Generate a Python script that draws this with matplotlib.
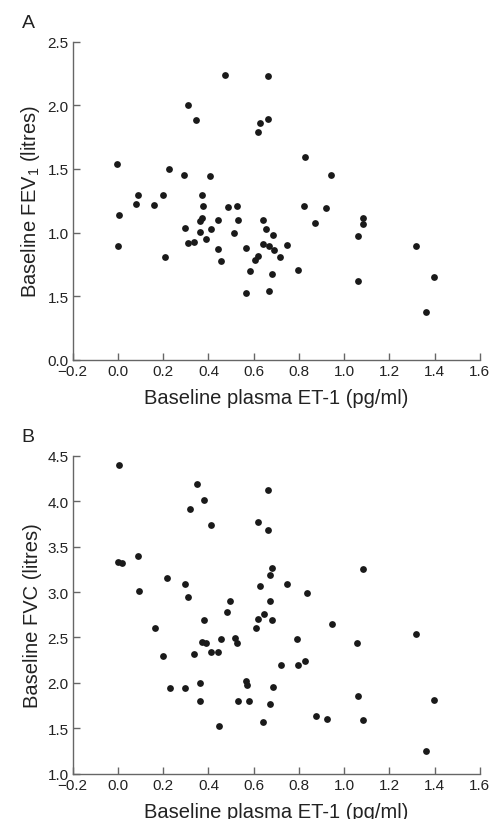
import matplotlib
matplotlib.use("Agg")
import matplotlib.pyplot as plt

plt.rcParams['font.family'] = ['Liberation Sans', 'DejaVu Sans']
plt.rcParams['mathtext.fontset'] = 'custom'
plt.rcParams['mathtext.rm'] = 'Liberation Sans'
plt.rcParams['mathtext.it'] = 'Liberation Sans:italic'

# Panel A: baseline ET-1 vs FEV1
et1_a = [-0.006, 0.0, 0.006, 0.081, 0.089, 0.158, 0.198, 0.207, 0.224, 0.294,
         0.295, 0.31, 0.311, 0.336, 0.344, 0.361, 0.361, 0.372, 0.372, 0.375,
         0.389, 0.407, 0.41, 0.441, 0.444, 0.454, 0.471, 0.488, 0.512, 0.524,
         0.531, 0.565, 0.568, 0.583, 0.605, 0.62, 0.617, 0.63, 0.639, 0.64,
         0.656, 0.662, 0.665, 0.667, 0.668, 0.679, 0.686, 0.689, 0.717, 0.746,
         0.795, 0.823, 0.828, 0.872, 0.92, 0.941, 1.061, 1.062, 1.083, 1.083,
         1.317, 1.395, 1.362]
fev1 = [1.542, 0.893, 1.139, 1.222, 1.293, 1.217, 1.293, 0.806, 1.5, 1.45,
        1.034, 2.003, 0.914, 0.929, 1.887, 1.005, 1.094, 1.118, 1.293, 1.207,
        0.948, 1.442, 1.031, 1.102, 0.874, 0.775, 2.241, 1.204, 0.997, 1.207,
        1.102, 0.526, 0.877, 0.699, 0.785, 0.812, 1.793, 1.859, 0.911, 1.102,
        1.026, 2.233, 1.895, 0.898, 0.542, 0.678, 0.979, 0.861, 0.809, 0.903,
        0.707, 1.207, 1.597, 1.073, 1.194, 1.45, 0.974, 0.623, 1.113, 1.071,
        0.898, 0.649, 0.372]

# Panel B: baseline ET-1 vs FVC
et1_b = [0.006, 0.001, 0.019, 0.087, 0.093, 0.165, 0.2, 0.217, 0.23, 0.298,
         0.297, 0.31, 0.317, 0.336, 0.35, 0.364, 0.363, 0.372, 0.388, 0.379,
         0.382, 0.41, 0.41, 0.444, 0.448, 0.457, 0.481, 0.496, 0.516, 0.528,
         0.53, 0.568, 0.571, 0.581, 0.612, 0.617, 0.621, 0.63, 0.64, 0.646,
         0.664, 0.665, 0.67, 0.671, 0.67, 0.68, 0.683, 0.687, 0.72, 0.749,
         0.791, 0.795, 0.826, 0.836, 0.876, 0.923, 0.946, 1.055, 1.062, 1.083,
         1.084, 1.319, 1.395, 1.363]
fvc = [4.40, 3.335, 3.32, 3.40, 3.015, 2.608, 2.296, 3.151, 1.94, 3.093,
       1.943, 2.946, 3.918, 2.322, 4.194, 1.995, 1.797, 2.446, 2.443, 4.01,
       2.696, 3.742, 2.336, 2.336, 1.529, 2.479, 2.777, 2.898, 2.49, 2.439,
       1.80, 2.02, 1.977, 1.797, 2.608, 3.775, 2.703, 3.067, 1.573, 2.755,
       4.124, 3.684, 2.898, 3.188, 1.771, 2.692, 3.265, 1.958, 2.197, 3.085,
       2.479, 2.193, 2.241, 2.986, 1.639, 1.602, 2.652, 2.439, 1.855, 3.25,
       1.587, 2.538, 1.811, 1.246]

x_ticks = [-0.2, 0.0, 0.2, 0.4, 0.6, 0.8, 1.0, 1.2, 1.4, 1.6]
x_ticklabels = ['\u22120.2', '0.0', '0.2', '0.4', '0.6', '0.8', '1.0', '1.2', '1.4', '1.6']
a_yticks = [0.0, 0.5, 1.0, 1.5, 2.0, 2.5]
a_yticklabels = ['0.0', '1.5', '1.0', '1.5', '2.0', '2.5']
b_yticks = [1.0, 1.5, 2.0, 2.5, 3.0, 3.5, 4.0, 4.5]
b_yticklabels = ['1.0', '1.5', '2.0', '2.5', '3.0', '3.5', '4.0', '4.5']

SPINE = '#666666'
DOT = '#1a1a1a'
TXT = '#222222'

fig = plt.figure(figsize=(4.96, 8.2), dpi=100)
ax_a = fig.add_axes([0.1466, 0.560, 0.821, 0.388])
ax_b = fig.add_axes([0.1466, 0.0553, 0.821, 0.3876])


def style(ax, yticks, yticklabels, ylim, ylabel):
    ax.set_xlim(-0.2, 1.6)
    ax.set_ylim(*ylim)
    ax.set_xticks(x_ticks)
    ax.set_xticklabels(x_ticklabels)
    ax.set_yticks(yticks)
    ax.set_yticklabels(yticklabels)
    for s in ['top', 'right']:
        ax.spines[s].set_visible(False)
    for s in ['left', 'bottom']:
        ax.spines[s].set_color(SPINE)
        ax.spines[s].set_linewidth(1.0)
    ax.tick_params(direction='in', length=5, width=1.0, color=SPINE,
                   labelsize=11, labelcolor=TXT, pad=3)
    ax.set_xlabel('Baseline plasma ET-1 (pg/ml)', fontsize=14.5,
                  color=TXT, labelpad=7)
    ax.set_ylabel(ylabel, fontsize=14.5, color=TXT, labelpad=4)


ax_a.scatter(et1_a, fev1, s=24, color=DOT, linewidths=0, clip_on=False)
style(ax_a, a_yticks, a_yticklabels, (0, 2.5), r'Baseline FEV$_\mathrm{1}$ (litres)')

ax_b.scatter(et1_b, fvc, s=24, color=DOT, linewidths=0, clip_on=False)
style(ax_b, b_yticks, b_yticklabels, (1.0, 4.5), 'Baseline FVC (litres)')

fig.text(28 / 496, 1 - 24 / 820, 'A', fontsize=14, ha='center', va='center', color=TXT)
fig.text(28 / 496, 1 - 438 / 820, 'B', fontsize=14, ha='center', va='center', color=TXT)

fig.savefig('out.png', dpi=100)
